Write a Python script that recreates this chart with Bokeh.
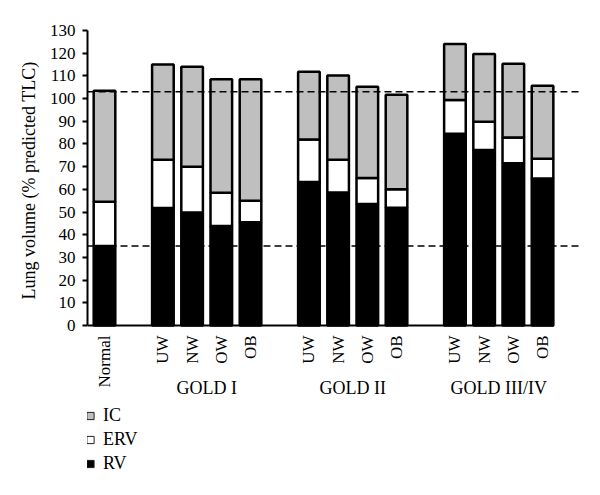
import math
from bokeh.plotting import figure
from bokeh.models import (Range1d, FixedTicker, Span, Legend, LegendItem,
                          ColumnDataSource, Title)
from bokeh.core.properties import value
from bokeh.embed import file_html
from bokeh.resources import INLINE

# ---- data ----
control = "Normal"
groups = ["GOLD I", "GOLD II", "GOLD III/IV"]
subgroups = ["UW", "NW", "OW", "OB"]
RV = [35.0, 51.8, 49.8, 43.9, 45.5, 63.2, 58.6, 53.5, 51.9, 84.5, 77.3, 71.5, 64.8]
ERV = [19.5, 21.2, 20.2, 14.6, 9.5, 18.8, 14.4, 11.5, 8.1, 14.9, 12.5, 11.3, 8.7]
IC = [49.0, 42.0, 44.0, 50.0, 53.5, 29.8, 37.2, 40.2, 41.7, 24.6, 29.8, 32.6, 32.2]
ref_lines = [103, 35]
y_ticks = list(range(0, 131, 10))
y_title = "Lung volume (% predicted TLC)"

# ---- layout positions (slots) ----
labels = [control]
xs = [0]
group_centers = []
pos = 2
for g in groups:
    start = pos
    for s in subgroups:
        labels.append(s)
        xs.append(pos)
        pos += 1
    group_centers.append((start + pos - 1) / 2)
    pos += 1

src = ColumnDataSource(dict(x=xs, RV=RV, ERV=ERV, IC=IC))

FONT = "Liberation Serif"
W, H = 584, 479
TOP = 30
px_per_unit = 295 / 130.0
y_min = 130 - (H - TOP) / px_per_unit
x_start, x_end = -0.582, 16.30
axis_end = xs[-1] + 0.39

p = figure(width=W, height=H, output_backend="svg", toolbar_location=None,
           x_range=Range1d(x_start, x_end), y_range=Range1d(y_min, 130),
           x_axis_location=None,
           min_border_left=87, min_border_right=4, min_border_top=TOP,
           min_border_bottom=0)
p.outline_line_color = None
p.xgrid.grid_line_color = None
p.ygrid.grid_line_color = None

p.vbar_stack(["RV", "ERV", "IC"], x="x", width=0.74, source=src,
             fill_color=["black", "white", "#bfbfbf"], line_color="black",
             line_width=2.5)

for v in ref_lines:
    p.add_layout(Span(location=v, dimension="width", line_color="black",
                      line_width=1.5, line_dash="7 4"))

# x axis line
p.segment(x0=[x_start], y0=[0], x1=[axis_end], y1=[0], line_color="black",
          line_width=2)

# y axis
ya = p.yaxis[0]
ya.ticker = FixedTicker(ticks=y_ticks)
ya.bounds = (0, 130)
ya.major_label_text_font = FONT
ya.major_label_text_font_size = "17px"
ya.major_label_text_color = "black"
ya.axis_line_width = 2
ya.major_tick_line_width = 2
ya.major_tick_out = 5
ya.major_tick_in = 0
ya.minor_tick_line_color = None
ya.major_label_standoff = 7

# y axis title, anchored near the top of the 0-130 axis
p.add_layout(Title(text=y_title, align="right", offset=31, standoff=16,
                   text_font=FONT, text_font_size="18px",
                   text_font_style="normal", text_color="black"), "left")

# category tick labels (vertical)
p.text(x=xs, y=[0] * len(xs), text=labels, angle=math.pi / 2, y_offset=10,
       text_align="right", text_baseline="middle",
       text_font=value(FONT), text_font_size="17px", text_color="black")

# group labels
p.text(x=group_centers, y=[0] * len(groups), text=groups, y_offset=62,
       text_align="center", text_baseline="alphabetic",
       text_font=value(FONT), text_font_size="18px", text_color="black")

# legend (legend-only marker renderers, with a non-drawable NaN point)
nan = float("nan")
r_ic = p.scatter(x=[nan], y=[nan], marker="square", fill_color="#bfbfbf",
                 line_color="#222222", line_width=1)
r_erv = p.scatter(x=[nan], y=[nan], marker="square", fill_color="white",
                  line_color="#222222", line_width=1)
r_rv = p.scatter(x=[nan], y=[nan], marker="square", fill_color="black",
                 line_color="#222222", line_width=1)
legend = Legend(items=[LegendItem(label="IC", renderers=[r_ic]),
                       LegendItem(label="ERV", renderers=[r_erv]),
                       LegendItem(label="RV", renderers=[r_rv])],
                location=(-6, 4), orientation="vertical",
                padding=0, margin=0, spacing=1,
                glyph_width=18, glyph_height=23, label_height=23,
                label_standoff=4, label_text_font=FONT,
                label_text_font_size="18px", label_text_color="black",
                border_line_color=None, background_fill_alpha=0)
p.add_layout(legend)

open("out.html", "w").write(file_html(p, INLINE))
